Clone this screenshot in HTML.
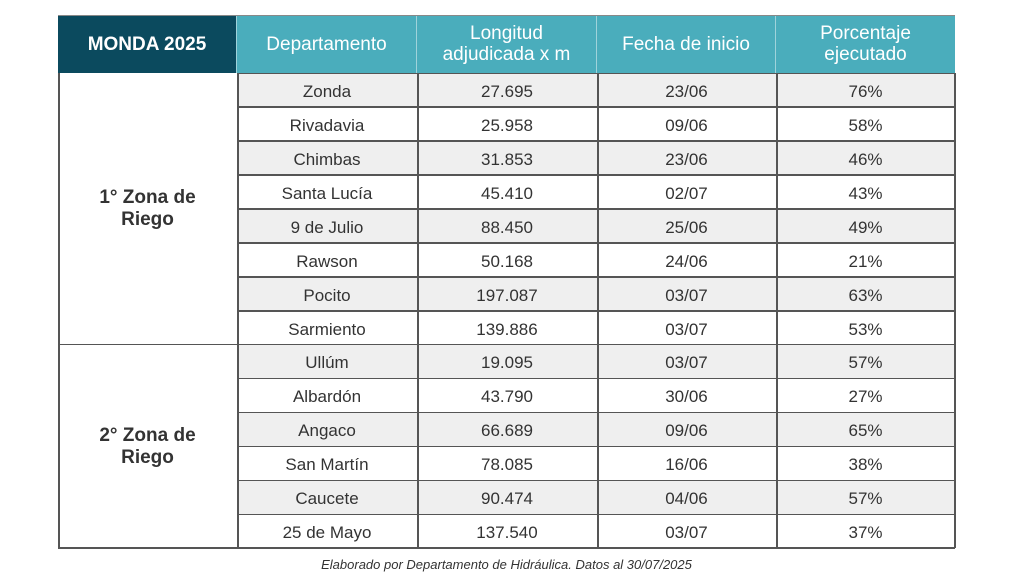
<!DOCTYPE html>
<html><head><meta charset="utf-8"><style>
body{margin:0;width:1024px;height:580px;background:#fff;position:relative;font-family:"Liberation Sans","DejaVu Sans",sans-serif;overflow:hidden}
.c{position:absolute;box-sizing:border-box;display:flex;align-items:center;justify-content:center;text-align:center;color:#333;font-size:17px}
.r{padding-top:4px}
.h{color:#fff;font-size:19px;line-height:21px;background:#4aadbc;border-right:1px solid #9fd3db}
.line{position:absolute;background:#555}
</style></head><body>
<div class="c h" style="left:58px;top:15px;width:179px;height:58px;background:#0b4a5e;font-weight:bold">MONDA 2025</div>
<div class="c h" style="left:237px;top:15px;width:180px;height:58px">Departamento</div>
<div class="c h" style="left:417px;top:15px;width:180px;height:58px">Longitud<br>adjudicada x m</div>
<div class="c h" style="left:597px;top:15px;width:179px;height:58px">Fecha de inicio</div>
<div class="c h" style="left:776px;top:15px;width:179px;height:58px;border-right:none">Porcentaje<br>ejecutado</div>
<div id="rows"></div>
<div class="c" style="left:58px;top:73px;width:179px;height:272px;font-size:19px;font-weight:bold;line-height:22px">1° Zona de<br>Riego</div>
<div class="c" style="left:58px;top:345px;width:179px;height:203px;font-size:19px;font-weight:bold;line-height:22px">2° Zona de<br>Riego</div>
<div class="c" style="left:58px;top:553px;width:897px;height:22px;font-size:13px;font-style:italic;color:#333">Elaborado por Departamento de Hidráulica. Datos al 30/07/2025</div>
<script>
var d=[["Zonda","27.695","23/06","76%"],["Rivadavia","25.958","09/06","58%"],["Chimbas","31.853","23/06","46%"],["Santa Lucía","45.410","02/07","43%"],["9 de Julio","88.450","25/06","49%"],["Rawson","50.168","24/06","21%"],["Pocito","197.087","03/07","63%"],["Sarmiento","139.886","03/07","53%"],["Ullúm","19.095","03/07","57%"],["Albardón","43.790","30/06","27%"],["Angaco","66.689","09/06","65%"],["San Martín","78.085","16/06","38%"],["Caucete","90.474","04/06","57%"],["25 de Mayo","137.540","03/07","37%"]];
var xs=[237,417,597,776,955],h="";
for(var i=0;i<14;i++){var t=73+i*33.93;
h+='<div style="position:absolute;left:237px;top:'+t+'px;width:718px;height:34px;background:'+(i%2==0?'#efefef':'#fff')+'"></div>';
for(var j=0;j<4;j++)h+='<div class="c r" style="left:'+xs[j]+'px;top:'+t+'px;width:'+(xs[j+1]-xs[j])+'px;height:34px">'+d[i][j]+'</div>';
h+='<div class="line" style="left:'+(i==8?58:237)+'px;top:'+(t-0.5)+'px;width:'+(i==8?897:718)+'px;height:1.5px"></div>';}
h+='<div class="line" style="left:58px;top:547px;width:897px;height:1.5px"></div>';
h+='<div class="line" style="left:58px;top:15px;width:897px;height:1px;background:#888"></div>';
[58,237,417,597,776,954].forEach(function(x){h+='<div class="line" style="left:'+x+'px;top:73px;width:1.5px;height:475px"></div>';});
document.getElementById('rows').outerHTML=h;
</script>
</body></html>
